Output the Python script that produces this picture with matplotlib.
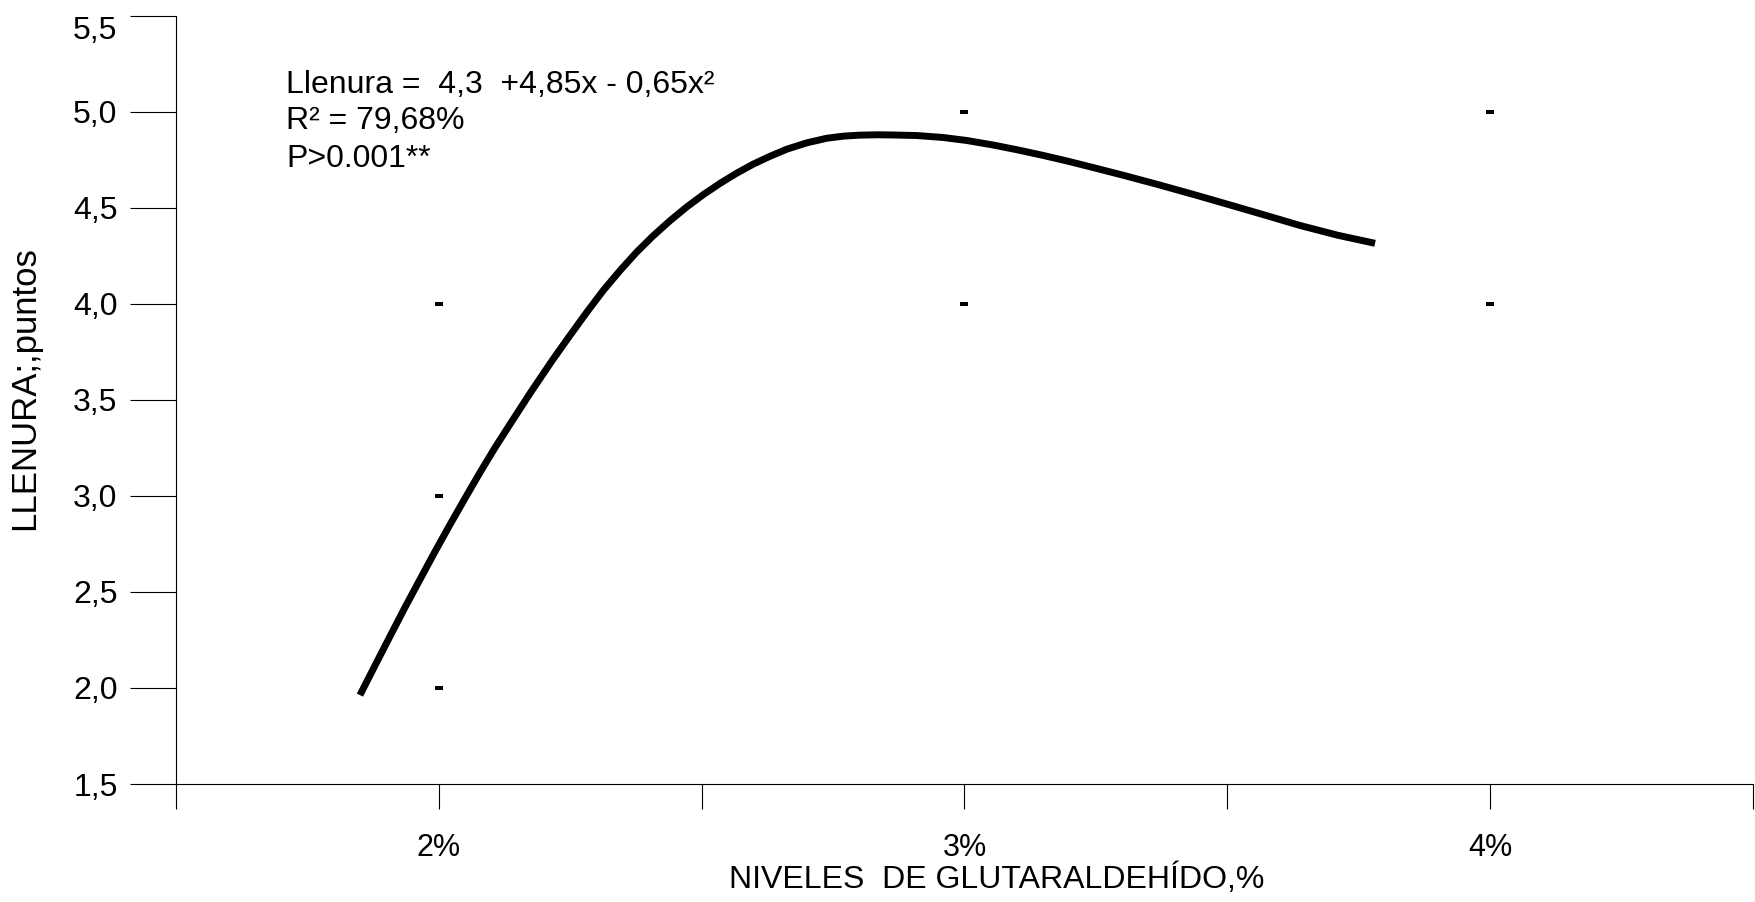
import numpy as np
import matplotlib.pyplot as plt
from matplotlib.path import Path

plt.rcParams['font.family'] = ['Liberation Sans', 'DejaVu Sans']

# niveles de glutaraldehído (%) y llenura observada
niveles = [2, 2, 2, 3, 3, 4, 4]
llenura = [4.0, 3.0, 2.0, 5.0, 4.0, 5.0, 4.0]

# curva de tendencia leída punto a punto
curva_x = [1.850, 1.880, 1.907, 1.935, 1.964, 1.992, 2.021, 2.050, 2.078,
           2.106, 2.135, 2.175, 2.217, 2.250, 2.282, 2.313, 2.345, 2.376,
           2.407, 2.440, 2.472, 2.504, 2.535, 2.566, 2.598, 2.630, 2.662,
           2.700, 2.738, 2.770, 2.800, 2.835, 2.864, 2.910, 2.959, 3.005,
           3.054, 3.100, 3.149, 3.196, 3.244, 3.308, 3.372, 3.440, 3.511,
           3.575, 3.638, 3.710, 3.781]
curva_y = [1.963, 2.124, 2.268, 2.416, 2.564, 2.706, 2.849, 2.988, 3.120,
           3.247, 3.371, 3.540, 3.710, 3.837, 3.958, 4.070, 4.174, 4.268,
           4.352, 4.433, 4.505, 4.570, 4.627, 4.679, 4.727, 4.768, 4.805,
           4.838, 4.862, 4.873, 4.878, 4.880, 4.879, 4.876, 4.866, 4.850,
           4.827, 4.802, 4.773, 4.743, 4.710, 4.665, 4.618, 4.566, 4.510,
           4.459, 4.408, 4.357, 4.315]

x_ticks = [1.5, 2.0, 2.5, 3.0, 3.5, 4.0, 4.5]
x_labels = ['', '2%', '', '3%', '', '4%', '']
y_ticks = [1.5, 2.0, 2.5, 3.0, 3.5, 4.0, 4.5, 5.0, 5.5]
y_labels = ['1,5', '2,0', '2,5', '3,0', '3,5', '4,0', '4,5', '5,0', '5,5']

fig = plt.figure(figsize=(17.56, 9.02), dpi=100)
ax = fig.add_axes([0.1002, 0.1308, 0.8981, 0.8518])

ax.plot(curva_x, curva_y, color='black', lw=5,
        solid_capstyle='butt', solid_joinstyle='round')

# guiones rectangulares como marcadores
guion = Path([(-1, -0.6), (1, -0.6), (1, 0.6), (-1, 0.6), (-1, -0.6)],
             [Path.MOVETO, Path.LINETO, Path.LINETO, Path.LINETO, Path.CLOSEPOLY])
ax.plot(niveles, llenura, linestyle='none', marker=guion, markersize=5.8,
        color='black', markeredgewidth=0)

ax.set_xlim(1.5, 4.5)
ax.set_ylim(1.5, 5.5)
ax.set_xticks(x_ticks)
ax.set_xticklabels(x_labels, fontsize=22)
ax.set_yticks(y_ticks)
ax.set_yticklabels(y_labels, fontsize=23)
ax.get_yticklabels()[-1].set_va('top')

for s in ['top', 'right']:
    ax.spines[s].set_visible(False)
for s in ['left', 'bottom']:
    ax.spines[s].set_linewidth(0.8)

ax.tick_params(axis='y', direction='out', length=33, width=0.8, pad=9)
ax.tick_params(axis='x', direction='out', length=18, width=0.8, pad=17)

ax.set_xlabel('NIVELES  DE GLUTARALDEHÍDO,%', fontsize=23)
ax.xaxis.set_label_coords(0.5206, -0.104)
ax.set_ylabel('LLENURA;,puntos', fontsize=25, ha='center', va='center')
ax.yaxis.set_label_coords(-0.0958, 0.515)

ax.text(0.0698, 0.899, 'Llenura =  4,3  +4,85x - 0,65x²', transform=ax.transAxes,
        fontsize=23, va='baseline')
ax.text(0.0698, 0.852, 'R² = 79,68%', transform=ax.transAxes,
        fontsize=23, va='baseline')
ax.text(0.0698, 0.8035, 'P>0.001**', transform=ax.transAxes,
        fontsize=23, va='baseline')

fig.savefig('out.png', dpi=100)
